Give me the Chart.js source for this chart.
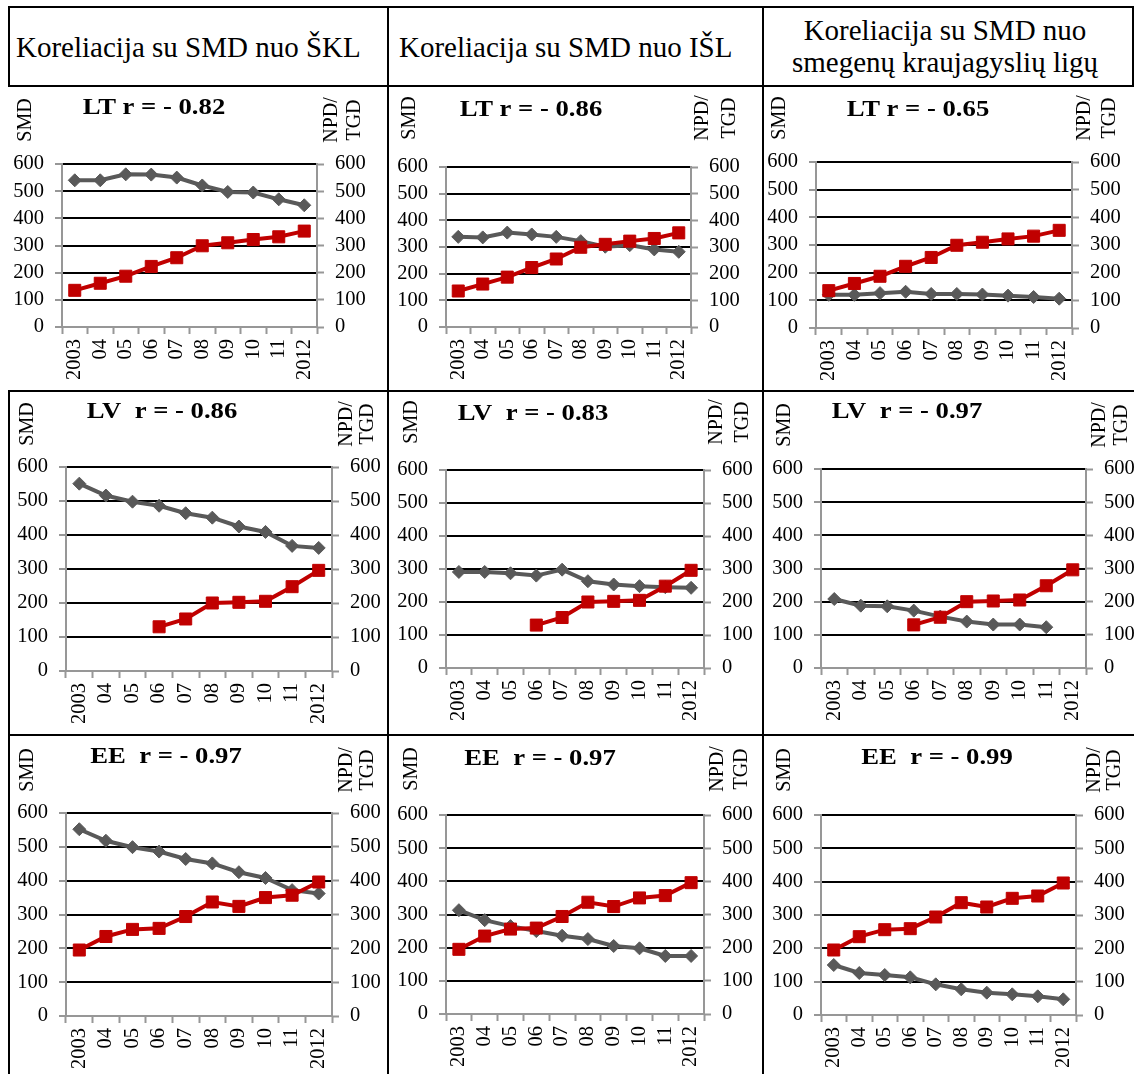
<!DOCTYPE html>
<html>
<head>
<meta charset="utf-8">
<script src="https://cdn.jsdelivr.net/npm/chart.js@4"></script>
<style>
  html, body { margin: 0; padding: 0; background: #fff; }
  body { width: 1134px; height: 1074px; position: relative; overflow: hidden;
         font-family: 'Liberation Serif'; color: #000; }
  .hd { position: absolute; font-family: 'Liberation Serif'; font-size: 29px; line-height: 32px; white-space: nowrap; }
  .ln { position: absolute; background: #000; }
  canvas { position: absolute; display: block; }
</style>
</head>
<body>
<script>
// ---- data ----
const years = ['2003', '04', '05', '06', '07', '08', '09', '10', '11', '2012'];

const columnHeaders = [
  ['Koreliacija su SMD nuo ŠKL'],
  ['Koreliacija su SMD nuo IŠL'],
  ['Koreliacija su SMD nuo', 'smegenų kraujagyslių ligų']
];

// NPD/TGD per country (right axis)
const npdLT = [135, 161, 187, 223, 255, 299, 310, 322, 332, 353];
const npdLV = [null, null, null, 130, 153, 200, 202, 205, 248, 296];
const npdEE = [195, 235, 256, 259, 294, 337, 324, 350, 357, 396];

// SMD per country and cause (left axis)
const smdLT_SKL  = [540, 540, 562, 561, 550, 521, 497, 495, 470, 448];
const smdLT_ISL  = [338, 336, 354, 347, 338, 322, 301, 307, 291, 282];
const smdLT_SMKL = [120, 120, 126, 131, 123, 123, 121, 117, 112, 106];
const smdLV_SKL  = [551, 516, 498, 486, 464, 451, 425, 409, 368, 362];
const smdLV_ISL  = [291, 291, 287, 280, 298, 263, 253, 248, 245, 243];
const smdLV_SMKL = [208, 188, 186, 173, 155, 140, 131, 131, 123, null];
const smdEE_SKL  = [552, 518, 499, 486, 464, 451, 425, 408, 372, 362];
const smdEE_ISL  = [313, 283, 265, 250, 236, 226, 205, 198, 175, 175];
const smdEE_SMKL = [150, 126, 120, 113, 92, 77, 67, 62, 56, 47];

const panelTitles = [
  'LT r = - 0.82', 'LT r = - 0.86', 'LT r = - 0.65',
  'LV  r = - 0.86', 'LV  r = - 0.83', 'LV  r = - 0.97',
  'EE  r = - 0.97', 'EE  r = - 0.97', 'EE  r = - 0.99'
];
const leftAxisName = 'SMD';
const rightAxisName = ['NPD/', 'TGD'];
const yMin = 0, yMax = 600, yStep = 100;

const npdRows = [npdLT, npdLV, npdEE];
const smdPanels = [
  smdLT_SKL, smdLT_ISL, smdLT_SMKL,
  smdLV_SKL, smdLV_ISL, smdLV_SMKL,
  smdEE_SKL, smdEE_ISL, smdEE_SMKL
];

// ---- layout ----
const colX = [[10, 386], [390, 761], [765, 1134]];
const rowY = [[88, 389], [393, 733], [737, 1074]];
// plot area per panel: left, top, right, bottom (page px)
const plotRects = [
  [62, 164, 317, 327], [446, 167, 691, 327], [816, 162, 1072, 328],
  [66, 467, 332, 671], [446, 470, 704, 668], [821, 469, 1086, 668],
  [66, 813, 332, 1016], [446, 815, 704, 1014], [821, 815, 1076, 1015]
];
// title centre, axis-name centre (x, y), NPD/ and TGD line x
const decorPos = [
  { tx: 154, ty: 108, sx: 26,  sy: 120, nx: 332,  gx: 355 },
  { tx: 531, ty: 110, sx: 410, sy: 118, nx: 703,  gx: 730 },
  { tx: 918, ty: 110, sx: 780, sy: 118, nx: 1085, gx: 1110 },
  { tx: 162, ty: 412, sx: 28,  sy: 424, nx: 347,  gx: 368 },
  { tx: 533, ty: 414, sx: 412, sy: 422, nx: 717,  gx: 743 },
  { tx: 907, ty: 412, sx: 785, sy: 425, nx: 1100, gx: 1122 },
  { tx: 166, ty: 757, sx: 28,  sy: 770, nx: 347,  gx: 368 },
  { tx: 540, ty: 759, sx: 412, sy: 769, nx: 718,  gx: 742 },
  { tx: 937, ty: 758, sx: 785, sy: 770, nx: 1095, gx: 1115 }
];

const AXIS_GRAY = '#979797';
const SMD_GRAY = '#595959';
const NPD_RED = '#C00000';
const FONT = '"Liberation Serif"';

Chart.defaults.font.family = FONT;
Chart.defaults.color = '#000';

// ---- table frame ----
function line(x, y, w, h) {
  const d = document.createElement('div');
  d.className = 'ln';
  d.style.cssText = `left:${x}px;top:${y}px;width:${w}px;height:${h}px`;
  document.body.appendChild(d);
}
line(8, 6, 1126, 2);      // header top
line(8, 85, 1126, 2);     // header bottom
line(8, 6, 2, 81);        // header left
line(1132, 6, 2, 81);     // header right
line(387, 6, 2, 1068);    // column divider 1
line(762, 6, 2, 1068);    // column divider 2
line(8, 390, 1126, 2);    // row divider 1
line(8, 734, 1126, 2);    // row divider 2
line(8, 390, 2, 684);     // left edge, lower rows

// ---- column headers ----
function header(lines, left, top, width, align) {
  const d = document.createElement('div');
  d.className = 'hd';
  d.style.left = left + 'px';
  d.style.top = top + 'px';
  if (width) d.style.width = width + 'px';
  d.style.textAlign = align;
  d.innerHTML = lines.map(t => t.replace(/&/g, '&amp;').replace(/</g, '&lt;')).join('<br>');
  document.body.appendChild(d);
}
header(columnHeaders[0], 16, 31, 0, 'left');
header(columnHeaders[1], 399, 31, 0, 'left');
header(columnHeaders[2], 765, 14, 360, 'center');

// ---- panel decorations: bold title and rotated axis names ----
const panelDecor = {
  id: 'panelDecor',
  afterDraw(chart, args, o) {
    const ctx = chart.ctx;
    ctx.save();
    ctx.fillStyle = '#000';
    ctx.textAlign = 'center';
    ctx.textBaseline = 'middle';
    ctx.save();
    ctx.translate(o.tx, o.ty);
    ctx.scale(1.16, 1);
    ctx.font = 'bold 23px ' + FONT;
    ctx.fillText(o.title, 0, 0);
    ctx.restore();
    ctx.font = '20px ' + FONT;
    const vtext = (t, x, y) => {
      ctx.save();
      ctx.translate(x, y);
      ctx.rotate(-Math.PI / 2);
      ctx.fillText(t, 0, 0);
      ctx.restore();
    };
    vtext(o.left, o.sx, o.sy);
    vtext(o.right[0], o.nx, o.sy);
    vtext(o.right[1], o.gx, o.sy);
    ctx.restore();
  }
};

function makePanel(i) {
  const r = Math.floor(i / 3), c = i % 3;
  const [x0, x1] = colX[c];
  const [y0, y1] = rowY[r];
  const W = x1 - x0, H = y1 - y0;
  const [pl, pt, pr, pb] = plotRects[i];
  const dp = decorPos[i];

  const canvas = document.createElement('canvas');
  canvas.width = W;
  canvas.height = H;
  canvas.style.left = x0 + 'px';
  canvas.style.top = y0 + 'px';
  canvas.style.width = W + 'px';
  canvas.style.height = H + 'px';
  document.body.appendChild(canvas);

  const tickFont = { family: FONT, size: 20.5 };
  const yAxisBase = {
    min: yMin, max: yMax,
    ticks: { stepSize: yStep, font: tickFont, color: '#000', padding: 11, autoSkip: false },
    border: { display: true, color: AXIS_GRAY, width: 2 }
  };

  new Chart(canvas, {
    type: 'line',
    data: {
      labels: years,
      datasets: [
        {
          label: 'NPD/TGD', data: npdRows[r], yAxisID: 'y1', order: 1,
          borderColor: NPD_RED, backgroundColor: NPD_RED, borderWidth: 4,
          pointStyle: 'rect', pointRadius: 8.5, pointBorderWidth: 1,
          pointBackgroundColor: NPD_RED, pointBorderColor: NPD_RED,
          tension: 0, fill: false
        },
        {
          label: 'SMD', data: smdPanels[i], yAxisID: 'y', order: 2,
          borderColor: SMD_GRAY, backgroundColor: SMD_GRAY, borderWidth: 4,
          pointStyle: 'rectRot', pointRadius: 6.5, pointBorderWidth: 1,
          pointBackgroundColor: SMD_GRAY, pointBorderColor: SMD_GRAY,
          tension: 0, fill: false
        }
      ]
    },
    options: {
      responsive: false,
      animation: false,
      devicePixelRatio: 1,
      layout: { padding: { top: pt - y0, left: 0, right: 0, bottom: 0 } },
      plugins: {
        legend: { display: false },
        tooltip: { enabled: false },
        title: { display: false },
        panelDecor: {
          title: panelTitles[i], left: leftAxisName, right: rightAxisName,
          tx: dp.tx - x0, ty: dp.ty - y0, sx: dp.sx - x0, sy: dp.sy - y0,
          nx: dp.nx - x0, gx: dp.gx - x0
        }
      },
      scales: {
        x: {
          type: 'category', position: 'bottom', offset: true,
          grid: {
            display: true, offset: true, drawOnChartArea: false, drawTicks: true,
            tickLength: 7, tickWidth: 2, tickColor: AXIS_GRAY, color: AXIS_GRAY
          },
          border: { display: true, color: AXIS_GRAY, width: 2 },
          ticks: { font: tickFont, color: '#000', minRotation: 90, maxRotation: 90,
                   autoSkip: false, padding: 5 },
          afterFit: s => { s.height = y1 - pb; }
        },
        y: Object.assign({}, yAxisBase, {
          position: 'left',
          grid: {
            display: true, drawOnChartArea: true, drawTicks: true,
            lineWidth: 2, tickLength: 7, tickWidth: 2, tickColor: AXIS_GRAY,
            color: ctx => (ctx.tick && ctx.tick.value === 0) ? AXIS_GRAY : '#000'
          },
          afterFit: s => { s.width = pl - x0; }
        }),
        y1: Object.assign({}, yAxisBase, {
          position: 'right',
          grid: {
            display: true, drawOnChartArea: false, drawTicks: true,
            tickLength: 7, tickWidth: 2, tickColor: AXIS_GRAY, color: AXIS_GRAY
          },
          afterFit: s => { s.width = x1 - pr; }
        })
      }
    },
    plugins: [panelDecor]
  });
}

for (let i = 0; i < 9; i++) makePanel(i);
</script>
</body>
</html>
